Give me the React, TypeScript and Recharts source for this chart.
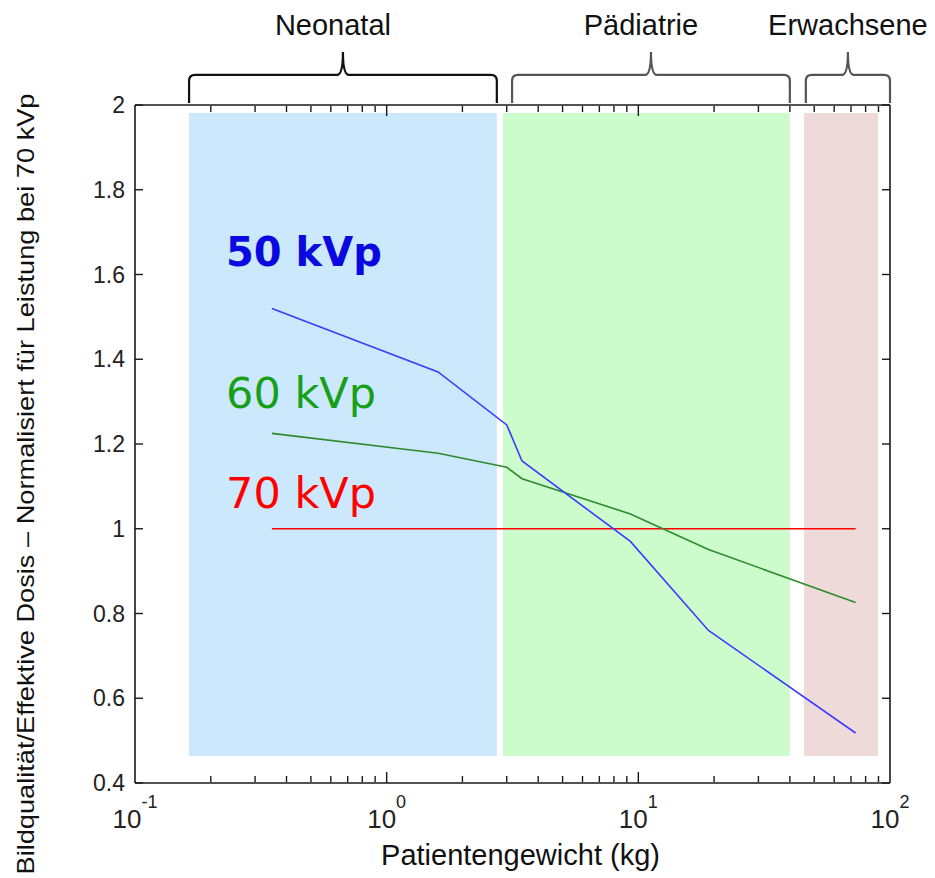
import React from "react";
import {
  Label,
  Line,
  LineChart,
  ReferenceArea,
  ReferenceDot,
  XAxis,
  YAxis,
} from "recharts";

// patient weight (kg) and quality/dose ratios per tube voltage
const weights = [0.35, 1.6, 3, 3.45, 9.3, 19, 73];
const kvp50 = [1.52, 1.37, 1.245, 1.16, 0.97, 0.76, 0.518];
const kvp60 = [1.225, 1.178, 1.145, 1.118, 1.035, 0.951, 0.826];
const kvp70 = [1, 1, 1, 1, 1, 1, 1];

const xTicks = [0.1, 1, 10, 100];
const xMajorTicks = [1, 10];
const xMinorTicks = [
  0.2, 0.3, 0.4, 0.5, 0.6, 0.7, 0.8, 0.9, 2, 3, 4, 5, 6, 7, 8, 9, 20, 30, 40,
  50, 60, 70, 80, 90,
];
const yTicks = [0.4, 0.6, 0.8, 1, 1.2, 1.4, 1.6, 1.8, 2];

// age groups: shaded weight ranges and the braces above the plot
const groupNames = ["Neonatal", "Pädiatrie", "Erwachsene"];
const bandFrom = [0.164, 2.9, 45.5];
const bandTo = [2.74, 40, 89.6];
const braceFrom = [0.164, 3.15, 46.3];
const braceTo = [2.74, 40, 100];
const bandBottom = 0.464;
const bandTop = 1.981;
const braceBottom = 2.005;
const bracePeak = 2.125;

// inline series labels
const seriesNames = ["50 kVp", "60 kVp", "70 kVp"];
const seriesLabelX = [0.23, 0.23, 0.23];
const seriesLabelY = [1.62, 1.285, 1.049];

const rows = weights.map((w, i) => ({
  w,
  kvp50: kvp50[i],
  kvp60: kvp60[i],
  kvp70: kvp70[i],
}));

const bandColors = ["#cce8fc", "#ccfccc", "#efdada"];
const braceColors = ["#111", "#555", "#555"];
const braceLabelShift = [-10, -10, 0];
const seriesColors = ["#3c3cff", "#2f8a2f", "#ff0000"];
const seriesTextColors = ["#0a0ae0", "#17a017", "#ff0000"];
const axisColor = "#1a1a1a";
const tickColor = "#222";

const makeBrace = (i: number) => (props: any) => {
  const { x, y, width, height } = props;
  const x1 = x;
  const x2 = x + width;
  const xc = (x1 + x2) / 2;
  const yEnd = y + height;
  const yLine = y + (height * 23) / 51;
  const r = 6;
  const d = [
    `M ${x1} ${yEnd}`,
    `L ${x1} ${yLine + r}`,
    `Q ${x1} ${yLine} ${x1 + r} ${yLine}`,
    `L ${xc - r} ${yLine}`,
    `Q ${xc} ${yLine} ${xc} ${y}`,
    `Q ${xc} ${yLine} ${xc + r} ${yLine}`,
    `L ${x2 - r} ${yLine}`,
    `Q ${x2} ${yLine} ${x2} ${yLine + r}`,
    `L ${x2} ${yEnd}`,
  ].join(" ");
  return (
    <g>
      <path d={d} fill="none" stroke={braceColors[i]} strokeWidth={2.2} />
      <text
        x={xc + braceLabelShift[i]}
        y={y - 17}
        textAnchor="middle"
        fontSize={29}
        fill="#111"
      >
        {groupNames[i]}
      </text>
    </g>
  );
};

const makeSeriesLabel = (i: number) => (props: any) => (
  <text
    x={props.cx}
    y={props.cy}
    fontFamily="'DejaVu Sans', Verdana, sans-serif"
    fontSize={i === 0 ? 40 : 43}
    fontWeight={i === 0 ? "bold" : "normal"}
    fill={seriesTextColors[i]}
  >
    {seriesNames[i]}
  </text>
);

const XTick = (props: any) => {
  const { x, y, payload } = props;
  const exp = Math.round(Math.log10(payload.value));
  return (
    <text x={x} y={y + 37} textAnchor="middle" fill={tickColor} fontSize={26}>
      <tspan>10</tspan>
      <tspan dy={-20} fontSize={18}>
        {exp}
      </tspan>
    </text>
  );
};

const NoTick = () => null;

const renderXLabel = (props: any) => {
  const vb = props.viewBox;
  return (
    <text
      x={vb.x + vb.width / 2 + 8}
      y={vb.y + vb.height - 13}
      textAnchor="middle"
      fontSize={29}
      fill="#111"
    >
      Patientengewicht (kg)
    </text>
  );
};

const renderYLabel = (props: any) => {
  const vb = props.viewBox;
  const cx = vb.x + 25;
  const cy = vb.y + vb.height / 2 + 40;
  return (
    <text
      x={cx}
      y={cy}
      transform={`rotate(-90 ${cx} ${cy})`}
      textAnchor="middle"
      dominantBaseline="central"
      fontSize={24}
      textLength={781}
      lengthAdjust="spacingAndGlyphs"
      fill="#111"
    >
      Bildqualität/Effektive Dosis – Normalisiert für Leistung bei 70 kVp
    </text>
  );
};

const tickStroke = { stroke: axisColor, strokeWidth: 1.4 };
const frameStroke = { stroke: axisColor, strokeWidth: 1.6 };

export default function App() {
  return (
    <div
      style={{
        position: "absolute",
        left: 0,
        top: 0,
        width: 935,
        height: 878,
        background: "#fff",
        fontFamily: "'Liberation Sans', Arial, sans-serif",
      }}
    >
      <LineChart
        width={935}
        height={878}
        data={rows}
        margin={{ top: 105, right: 45, bottom: 0, left: 0 }}
      >
        <XAxis
          dataKey="w"
          type="number"
          scale="log"
          domain={[0.1, 100]}
          allowDataOverflow
          ticks={xTicks}
          interval={0}
          height={95}
          tickLine={false}
          axisLine={frameStroke}
          tick={<XTick />}
        >
          <Label content={renderXLabel} />
        </XAxis>
        <XAxis
          xAxisId="bMajor"
          dataKey="w"
          type="number"
          scale="log"
          domain={[0.1, 100]}
          allowDataOverflow
          ticks={xMajorTicks}
          interval={0}
          mirror
          height={1}
          tick={NoTick}
          tickSize={11}
          tickLine={tickStroke}
          axisLine={false}
        />
        <XAxis
          xAxisId="bMinor"
          dataKey="w"
          type="number"
          scale="log"
          domain={[0.1, 100]}
          allowDataOverflow
          ticks={xMinorTicks}
          interval={0}
          mirror
          height={1}
          tick={NoTick}
          tickSize={6}
          tickLine={tickStroke}
          axisLine={false}
        />
        <XAxis
          xAxisId="tMajor"
          orientation="top"
          dataKey="w"
          type="number"
          scale="log"
          domain={[0.1, 100]}
          allowDataOverflow
          ticks={xMajorTicks}
          interval={0}
          mirror
          height={1}
          tick={NoTick}
          tickSize={11}
          tickLine={tickStroke}
          axisLine={frameStroke}
        />
        <XAxis
          xAxisId="tMinor"
          orientation="top"
          dataKey="w"
          type="number"
          scale="log"
          domain={[0.1, 100]}
          allowDataOverflow
          ticks={xMinorTicks}
          interval={0}
          mirror
          height={1}
          tick={NoTick}
          tickSize={6}
          tickLine={tickStroke}
          axisLine={false}
        />
        <YAxis
          type="number"
          domain={[0.4, 2]}
          allowDataOverflow
          ticks={yTicks}
          interval={0}
          width={135}
          tickLine={false}
          tickMargin={4}
          axisLine={frameStroke}
          tick={{ fontSize: 23, fill: tickColor }}
        >
          <Label content={renderYLabel} />
        </YAxis>
        <YAxis
          yAxisId="lTicks"
          type="number"
          domain={[0.4, 2]}
          allowDataOverflow
          ticks={yTicks}
          interval={0}
          mirror
          width={1}
          tick={NoTick}
          tickSize={8}
          tickLine={tickStroke}
          axisLine={false}
        />
        <YAxis
          yAxisId="rTicks"
          orientation="right"
          type="number"
          domain={[0.4, 2]}
          allowDataOverflow
          ticks={yTicks}
          interval={0}
          mirror
          width={1}
          tick={NoTick}
          tickSize={8}
          tickLine={tickStroke}
          axisLine={frameStroke}
        />

        {groupNames.map((g, i) => (
          <ReferenceArea
            key={"band" + g}
            x1={bandFrom[i]}
            x2={bandTo[i]}
            y1={bandBottom}
            y2={bandTop}
            fill={bandColors[i]}
            fillOpacity={1}
            stroke="none"
            ifOverflow="visible"
          />
        ))}
        {groupNames.map((g, i) => (
          <ReferenceArea
            key={"brace" + g}
            x1={braceFrom[i]}
            x2={braceTo[i]}
            y1={braceBottom}
            y2={bracePeak}
            ifOverflow="visible"
            shape={makeBrace(i)}
          />
        ))}

        <Line
          dataKey="kvp70"
          stroke={seriesColors[2]}
          strokeWidth={1.6}
          dot={false}
          isAnimationActive={false}
        />
        <Line
          dataKey="kvp60"
          stroke={seriesColors[1]}
          strokeWidth={1.6}
          dot={false}
          isAnimationActive={false}
        />
        <Line
          dataKey="kvp50"
          stroke={seriesColors[0]}
          strokeWidth={1.6}
          dot={false}
          isAnimationActive={false}
        />

        {seriesNames.map((s, i) => (
          <ReferenceDot
            key={s}
            x={seriesLabelX[i]}
            y={seriesLabelY[i]}
            r={0}
            ifOverflow="visible"
            shape={makeSeriesLabel(i)}
          />
        ))}
      </LineChart>
    </div>
  );
}
